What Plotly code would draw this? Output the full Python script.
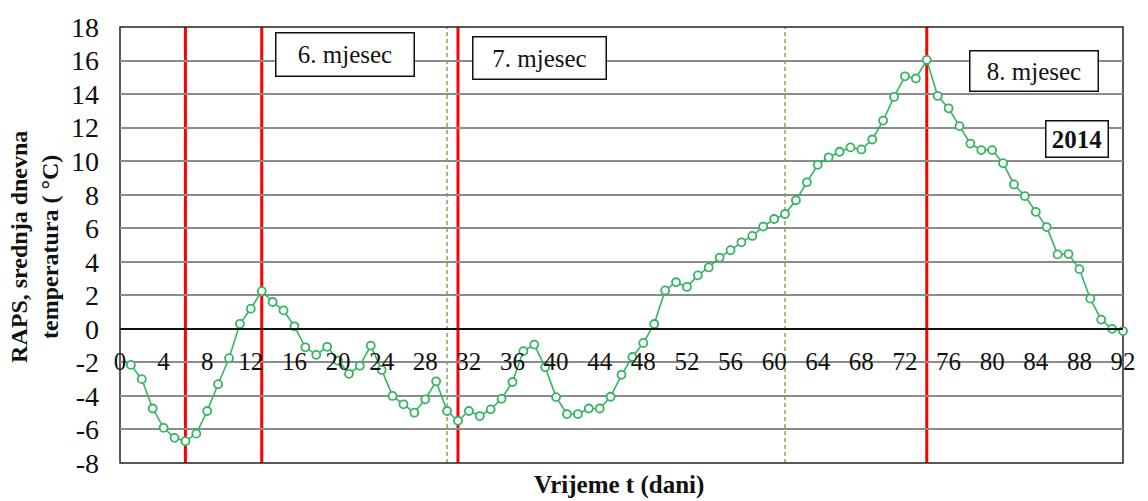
import plotly.graph_objects as go

# Daily mean temperature (RAPS), days 1..92
days = list(range(1, 93))
temps = [-2.15, -3.0, -4.75, -5.9, -6.5, -6.7, -6.25, -4.9, -3.3, -1.75,
         0.3, 1.2, 2.25, 1.6, 1.1, 0.15, -1.1, -1.55, -1.07, -1.9,
         -2.68, -2.2, -1.0, -2.45, -4.0, -4.5, -5.0, -4.2, -3.13, -4.9,
         -5.48, -4.9, -5.2, -4.8, -4.17, -3.17, -1.33, -0.94, -2.29, -4.07,
         -5.08, -5.08, -4.75, -4.75, -4.05, -2.74, -1.68, -0.84, 0.29, 2.29,
         2.78, 2.5, 3.19, 3.66, 4.25, 4.69, 5.16, 5.54, 6.1, 6.55,
         6.85, 7.67, 8.74, 9.78, 10.23, 10.56, 10.82, 10.7, 11.29, 12.42,
         13.83, 15.06, 14.93, 16.04, 13.89, 13.15, 12.09, 11.05, 10.66, 10.66,
         9.88, 8.61, 7.92, 6.98, 6.07, 4.44, 4.46, 3.56, 1.8, 0.55,
         0.0, -0.13]

# Vertical marker lines
red_days = [6, 13, 31, 74]
month_end_days = [30, 61]

# Axis ticks
x_ticks = list(range(0, 93, 4))
x_labels = [str(v) for v in x_ticks]
y_ticks = list(range(-8, 19, 2))
y_labels = [str(v) for v in y_ticks]

SERIF = "Liberation Serif"
GREEN = "#35b462"
INK = "#111111"

fig = go.Figure()
fig.add_trace(go.Scatter(
    x=days, y=temps, mode="lines+markers",
    line=dict(color=GREEN, width=1.6),
    marker=dict(symbol="circle", size=8, color="white",
                line=dict(color=GREEN, width=1.8)),
    showlegend=False, cliponaxis=False,
))

shapes = []
for d in red_days:
    shapes.append(dict(type="line", xref="x", yref="paper", x0=d, x1=d, y0=0, y1=1,
                       line=dict(color="#ff0000", width=3), layer="between"))
for d in month_end_days:
    shapes.append(dict(type="line", xref="x", yref="paper", x0=d, x1=d, y0=0, y1=1,
                       line=dict(color="#6f8f2f", width=1.2, dash="4px,3px"), layer="between"))
# plot frame
shapes.append(dict(type="rect", xref="paper", yref="paper", x0=0, x1=1, y0=0, y1=1,
                   line=dict(color="#222222", width=1.5), layer="between"))

box_font = dict(family=SERIF, size=25, color=INK)
box_style = dict(showarrow=False, bgcolor="white", bordercolor=INK,
                 borderwidth=1.5, borderpad=0, xref="x", yref="y")
annotations = [
    dict(x=20.67, y=16.36, text="6. mjesec", font=box_font,
         width=137, height=42, **box_style),
    dict(x=38.45, y=16.14, text="7. mjesec", font=box_font,
         width=132, height=41, **box_style),
    dict(x=83.87, y=15.39, text="8. mjesec", font=box_font,
         width=127, height=39, **box_style),
    dict(x=87.75, y=11.35, text="<b>2014</b>",
         font=dict(family=SERIF, size=25, color=INK),
         width=61, height=35, **box_style),
    dict(x=-0.0853, y=0.4966, xref="paper", yref="paper",
         text="<b>RAPS, srednja dnevna<br>temperatura ( °C)</b>", textangle=-90,
         showarrow=False, xanchor="center", yanchor="middle",
         font=dict(family=SERIF, size=24, color=INK)),
    dict(x=0.4975, y=-0.05, xref="paper", yref="paper",
         text="<b>Vrijeme t (dani)</b>", showarrow=False,
         xanchor="center", yanchor="middle",
         font=dict(family=SERIF, size=25, color=INK)),
]

fig.update_layout(
    width=1148, height=501,
    margin=dict(l=120, r=20, t=20, b=38),
    paper_bgcolor="white", plot_bgcolor="white",
    shapes=shapes, annotations=annotations,
    xaxis=dict(range=[0, 92], anchor="free", position=8 / 26,
               tickvals=x_ticks, ticktext=x_labels,
               showgrid=False, zeroline=False,
               showline=True, linecolor=INK, linewidth=2,
               ticks="", ticklabelstandoff=10,
               tickfont=dict(family=SERIF, size=25, color=INK)),
    yaxis=dict(range=[-8, 18], tickvals=y_ticks, ticktext=y_labels,
               showgrid=True, gridcolor="#8c8c8c", gridwidth=1.5,
               zeroline=False, showline=False, ticks="",
               ticklabelstandoff=20,
               tickfont=dict(family=SERIF, size=28, color=INK)),
)

fig.write_html("out.html")
